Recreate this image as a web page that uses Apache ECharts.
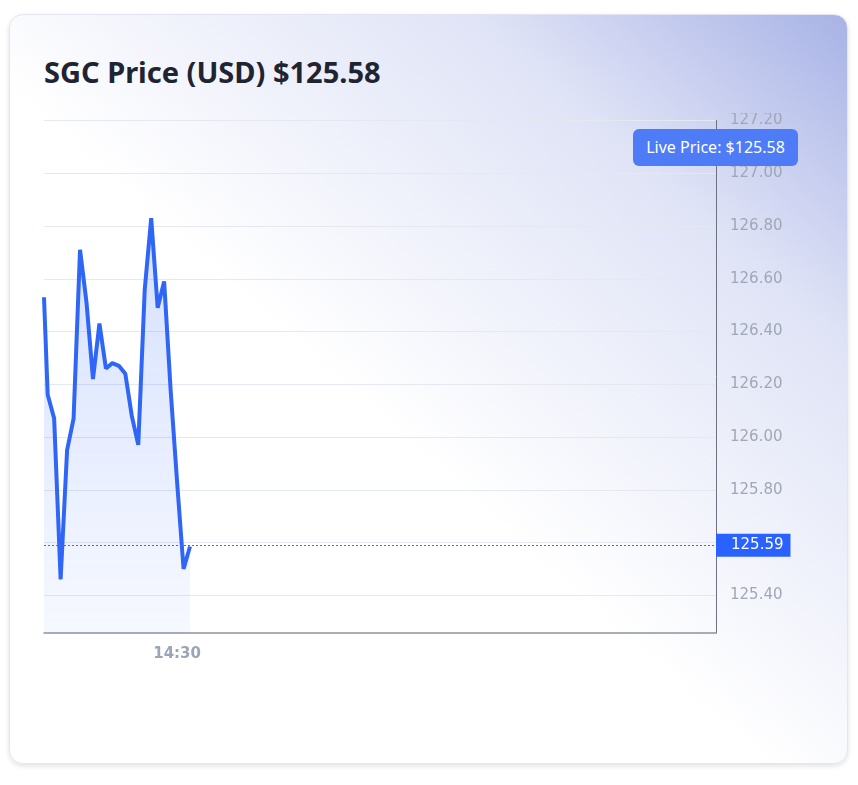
<!DOCTYPE html>
<html>
<head>
<meta charset="utf-8">
<script src="https://cdn.jsdelivr.net/npm/echarts@6/dist/echarts.min.js"></script>
<style>
  html, body { margin: 0; padding: 0; width: 858px; height: 785px; background: #ffffff; overflow: hidden; }
  .card {
    position: absolute; left: 9px; top: 14px; width: 839px; height: 750px;
    border-radius: 14px; box-sizing: border-box; border: 1px solid #e3e6ee;
    box-shadow: 0 2px 5px rgba(0,0,0,0.12);
    background: linear-gradient(to bottom left, #a8b3e6 0%, #dfe3f6 22%, #ffffff 55%, #ffffff 100%);
  }
  .title {
    position: absolute; left: 44px; top: 57px; margin: 0; line-height: 1;
    font-family: 'Noto Sans', sans-serif; font-weight: 700; font-size: 29px; color: #1f2433;
    white-space: nowrap;
  }
  .live {
    position: absolute; left: 633px; top: 129px; height: 37px; width: 165px; box-sizing: border-box;
    background: #4d7cf6; color: #fff; border-radius: 6px; z-index: 5;
    font-family: 'Noto Sans', sans-serif; font-size: 16px; line-height: 37px; text-align: center; white-space: nowrap;
  }
  #chart { position: absolute; left: 0; top: 113px; width: 858px; height: 672px; }
</style>
</head>
<body>
<div class="card"></div>
<h2 class="title" id="title"></h2>
<div id="chart"></div>
<script>
// ---- data ----
const symbol = 'SGC';
const livePrice = 125.58;
const markPrice = 125.59;
// minutes after 14:00 for each price sample
const minutes = [9.43, 10, 11, 12, 13, 14, 15, 16, 17, 18, 19, 20, 21, 22, 23, 24, 25, 26, 27, 28, 29, 30, 31, 32];
const prices = [126.53, 126.16, 126.07, 125.46, 125.95, 126.07, 126.71, 126.51, 126.22, 126.43, 126.26, 126.28,
                126.27, 126.24, 126.08, 125.97, 126.56, 126.83, 126.49, 126.59, 126.18, 125.83, 125.50, 125.585];
const xLabelMinutes = [30];
const yTicks = [125.4, 125.6, 125.8, 126.0, 126.2, 126.4, 126.6, 126.8, 127.0, 127.2];
const xMax = 113.3;
const yMin = 125.257, yMax = 127.2;

document.getElementById('title').textContent = symbol + ' Price (USD) $' + livePrice.toFixed(2);

const seriesData = minutes.map((m, i) => [m, prices[i]]);
const fmtTime = m => { const h = 14 + Math.floor(m / 60); const mm = m % 60; return h + ':' + String(mm).padStart(2, '0'); };

const chart = echarts.init(document.getElementById('chart'), null, { renderer: 'canvas' });
chart.setOption({
  animation: false,
  grid: { left: 44, right: 142, top: 5, bottom: 152 },
  xAxis: {
    type: 'value', min: minutes[0], max: xMax,
    axisLine: { show: true, lineStyle: { color: '#8f939c', width: 1.5 } },
    axisTick: { show: false },
    splitLine: { show: false },
    axisLabel: {
      customValues: xLabelMinutes,
      formatter: v => fmtTime(v),
      color: '#9aa5b8', fontSize: 15, fontWeight: 'bold', margin: 14,
      fontFamily: 'DejaVu Sans'
    }
  },
  yAxis: {
    type: 'value', position: 'right', min: yMin, max: yMax,
    axisLine: { show: true, lineStyle: { color: '#6e7280', width: 1 } },
    axisTick: { show: false, customValues: yTicks },
    splitLine: { show: true, lineStyle: { color: '#e4e8f0', width: 1 } },
    axisLabel: {
      customValues: yTicks,
      formatter: v => v.toFixed(2),
      color: '#a0a7b5', fontSize: 15, margin: 14,
      fontFamily: 'DejaVu Sans'
    }
  },
  series: [{
    type: 'line',
    data: seriesData,
    showSymbol: false,
    smooth: false,
    lineStyle: { color: '#2f66f6', width: 4 },
    areaStyle: {
      color: new echarts.graphic.LinearGradient(0, 0, 0, 1, [
        { offset: 0, color: 'rgba(41,98,255,0.28)' },
        { offset: 1, color: 'rgba(41,98,255,0.06)' }
      ])
    },
    markLine: {
      silent: true,
      symbol: 'none',
      lineStyle: { color: '#3a6df5', width: 1, type: [2, 2] },
      label: {
        position: 'end', distance: 0,
        formatter: () => markPrice.toFixed(2),
        color: '#ffffff', backgroundColor: '#2962ff',
        padding: [4, 7, 4, 15], fontSize: 15, fontFamily: 'DejaVu Sans'
      },
      data: [{ yAxis: markPrice }]
    }
  }]
});
</script>
<div class="live" id="live"></div>
<script>document.getElementById('live').textContent = 'Live Price: $' + livePrice.toFixed(2);</script>
</body>
</html>
